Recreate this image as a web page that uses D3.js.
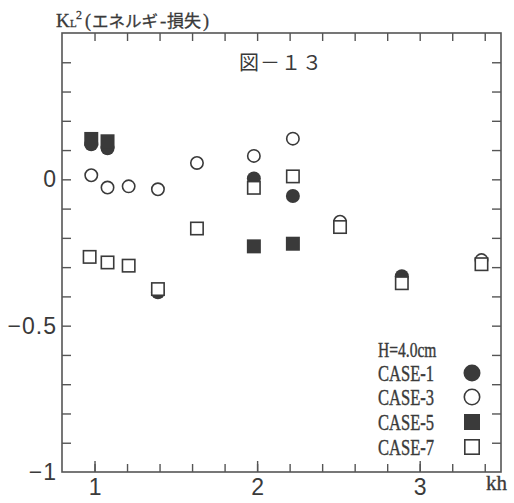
<!DOCTYPE html>
<html>
<head>
<meta charset="utf-8">
<script src="https://cdn.jsdelivr.net/npm/d3@7"></script>
<style>
  html, body { margin: 0; padding: 0; background: #fff; }
  svg { display: block; }
</style>
</head>
<body>
<svg id="chart" width="514" height="503"></svg>
<script>
// ---- data ----
const case1X = [0.98, 1.08, 1.39, 1.98, 2.22, 2.89];
const case1Y = [0.12, 0.106, -0.386, 0.003, -0.057, -0.331];
const case3X = [0.98, 1.08, 1.21, 1.39, 1.63, 1.98, 2.22, 2.51, 3.38];
const case3Y = [0.014, -0.028, -0.024, -0.034, 0.056, 0.08, 0.139, -0.145, -0.276];
const case5X = [0.98, 1.08, 1.98, 2.22];
const case5Y = [0.138, 0.13, -0.229, -0.22];
const case7X = [0.97, 1.08, 1.21, 1.39, 1.63, 1.98, 2.22, 2.51, 2.89, 3.38];
const case7Y = [-0.265, -0.284, -0.295, -0.375, -0.168, -0.029, 0.01, -0.163, -0.355, -0.29];

const xMinorTicks = [1.0, 1.2, 1.4, 1.6, 1.8, 2.0, 2.2, 2.4, 2.6, 2.8, 3.0, 3.2, 3.4];
const xMajorTicks = [1, 2, 3];
const yMinorTicks = [0.4, 0.3, 0.2, 0.1, 0, -0.1, -0.2, -0.3, -0.4, -0.5, -0.6, -0.7, -0.8, -0.9];
const yMajorTicks = [0, -0.5, -1];

const legendTitle = "H=4.0cm";
const legendNames = ["CASE-1", "CASE-3", "CASE-5", "CASE-7"];
const chartTitle = "図－１３";
const xAxisLabel = "kh";

// ---- layout ----
const ink = "#3a3a3a";
const axisColor = "#555";
const svg = d3.select("#chart");
const L = 62, R = 501, T = 33, B = 472;

const x = d3.scaleLinear().domain([0.8, 3.5]).range([L, R]);
const y = d3.scaleLinear().domain([-1, 0.5]).range([B, T]);

// frame
svg.append("rect").attr("x", L).attr("y", T).attr("width", R - L).attr("height", B - T)
  .attr("fill", "none").attr("stroke", axisColor).attr("stroke-width", 1.6);

function styleAxis(g) {
  g.select(".domain").remove();
  g.selectAll(".tick line").attr("stroke", axisColor).attr("stroke-width", 1.4);
}

// bottom
svg.append("g").attr("transform", `translate(0,${B})`)
  .call(d3.axisBottom(x).tickValues(xMinorTicks).tickSize(-8).tickFormat(""))
  .call(styleAxis);
svg.append("g").attr("transform", `translate(0,${B})`)
  .call(d3.axisBottom(x).tickValues(xMajorTicks).tickSize(-11).tickPadding(7).tickFormat(d3.format("d")))
  .call(styleAxis)
  .call(g => g.selectAll("text").attr("font-family", "Liberation Sans, Arial, sans-serif")
    .attr("font-size", 23).attr("fill", ink));
// top
svg.append("g").attr("transform", `translate(0,${T})`)
  .call(d3.axisTop(x).tickValues(xMinorTicks).tickSize(-8).tickFormat(""))
  .call(styleAxis);
// left
svg.append("g").attr("transform", `translate(${L},0)`)
  .call(d3.axisLeft(y).tickValues(yMinorTicks).tickSize(-9).tickFormat(""))
  .call(styleAxis);
svg.append("g").attr("transform", `translate(${L},0)`)
  .call(d3.axisLeft(y).tickValues(yMajorTicks).tickSize(0).tickPadding(5)
    .tickFormat(d => d === 0 ? "0" : d3.format("")(d).replace("-", "−")))
  .call(styleAxis)
  .call(g => g.selectAll("text").attr("font-family", "Liberation Sans, Arial, sans-serif")
    .attr("font-size", 23).attr("fill", ink).attr("letter-spacing", 1));
// right
svg.append("g").attr("transform", `translate(${R},0)`)
  .call(d3.axisRight(y).tickValues(yMinorTicks).tickSize(-9).tickFormat(""))
  .call(styleAxis);

// x label
svg.append("text").attr("x", 486).attr("y", 490)
  .attr("font-family", "Liberation Serif, serif").attr("font-size", 21).attr("fill", ink)
  .attr("stroke", ink).attr("stroke-width", 0.3)
  .text(xAxisLabel);

// y title  K_L^2(エネルギ-損失)
const yt = svg.append("text").attr("y", 27).attr("fill", ink)
  .attr("stroke", ink).attr("stroke-width", 0.3)
  .attr("font-family", "Liberation Serif, serif").attr("font-size", 19);
yt.append("tspan").attr("x", 56).text("K");
yt.append("tspan").attr("x", 70).attr("font-size", 11).attr("dy", 0).text("L");
yt.append("tspan").attr("x", 76).attr("font-size", 12).attr("dy", -8).text("2");
yt.append("tspan").attr("x", 85).attr("dy", 8).attr("font-size", 18).text("(");
yt.append("tspan").attr("x", 92).attr("font-family", "Noto Sans CJK JP").attr("font-size", 16)
  .attr("textLength", 66).attr("lengthAdjust", "spacingAndGlyphs").text("エネルギ");
yt.append("tspan").attr("x", 160).text("-");
yt.append("tspan").attr("x", 167).attr("font-family", "Noto Sans CJK JP").attr("font-size", 17).text("損失");
yt.append("tspan").attr("x", 203).attr("font-size", 18).text(")");

// chart title
svg.append("text").attr("x", 239).attr("y", 70).attr("fill", ink)
  .attr("font-family", "Noto Sans CJK JP").attr("font-size", 20).attr("letter-spacing", 1)
  .text(chartTitle);

// ---- markers ----
const r = 7, s = 14;
function circles(xs, ys, filled) {
  svg.append("g").selectAll("circle").data(xs.map((v, i) => [v, ys[i]])).join("circle")
    .attr("cx", d => x(d[0])).attr("cy", d => y(d[1])).attr("r", filled ? r : r - 0.8)
    .attr("fill", filled ? ink : "#fff").attr("stroke", ink).attr("stroke-width", filled ? 0 : 1.6);
}
function squares(xs, ys, filled) {
  const sz = filled ? s : s - 1.6;
  svg.append("g").selectAll("rect").data(xs.map((v, i) => [v, ys[i]])).join("rect")
    .attr("x", d => x(d[0]) - sz / 2).attr("y", d => y(d[1]) - sz / 2)
    .attr("width", sz).attr("height", sz)
    .attr("fill", filled ? ink : "#fff").attr("stroke", ink).attr("stroke-width", filled ? 0 : 1.6);
}
circles(case1X, case1Y, true);
circles(case3X, case3Y, false);
squares(case5X, case5Y, true);
squares(case7X, case7Y, false);

// ---- legend ----
const lg = svg.append("g");
lg.append("text").attr("transform", "translate(378,357) scale(0.74,1)")
  .attr("font-family", "Liberation Serif, serif").attr("font-size", 21).attr("fill", ink)
  .attr("stroke", ink).attr("stroke-width", 0.4)
  .text(legendTitle);
const rowY = [373, 397, 422, 447];
legendNames.forEach((name, i) => {
  lg.append("text").attr("transform", `translate(378,${rowY[i] + 8}) scale(0.72,1)`)
    .attr("font-family", "Liberation Serif, serif").attr("font-size", 23).attr("fill", ink)
    .attr("stroke", ink).attr("stroke-width", 0.4)
    .text(name);
});
const lr = 8.5, ls = 16;
lg.append("circle").attr("cx", 472).attr("cy", rowY[0]).attr("r", lr).attr("fill", ink);
lg.append("circle").attr("cx", 472).attr("cy", rowY[1]).attr("r", lr - 0.8)
  .attr("fill", "#fff").attr("stroke", ink).attr("stroke-width", 1.6);
lg.append("rect").attr("x", 472 - ls / 2).attr("y", rowY[2] - ls / 2).attr("width", ls).attr("height", ls).attr("fill", ink);
lg.append("rect").attr("x", 472 - (ls - 1.6) / 2).attr("y", rowY[3] - (ls - 1.6) / 2)
  .attr("width", ls - 1.6).attr("height", ls - 1.6)
  .attr("fill", "#fff").attr("stroke", ink).attr("stroke-width", 1.6);
</script>
</body>
</html>
